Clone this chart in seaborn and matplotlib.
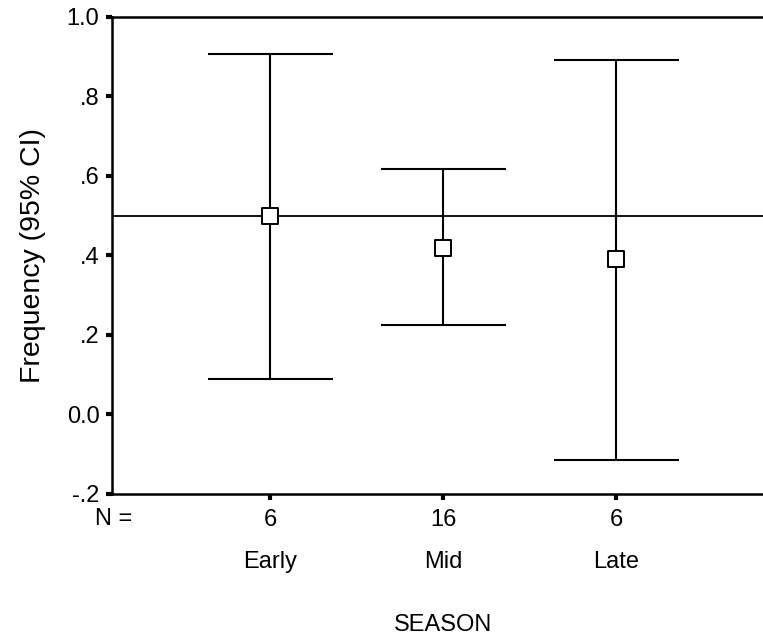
import matplotlib
matplotlib.use("Agg")
import matplotlib.pyplot as plt
import matplotlib.transforms as mtransforms
import seaborn as sns
import pandas as pd

# --- dados ---
seasons = ["Early", "Mid", "Late"]
n_counts = ["6", "16", "6"]
means = [0.50, 0.42, 0.39]
ci_low = [0.09, 0.225, -0.115]
ci_high = [0.907, 0.617, 0.893]
ref_level = 0.5

yticks = [-0.2, 0.0, 0.2, 0.4, 0.6, 0.8, 1.0]
ytick_labels = ["-.2", "0.0", ".2", ".4", ".6", ".8", "1.0"]

sns.set_theme(style="white")
plt.rcParams["font.family"] = ["Liberation Sans", "DejaVu Sans"]
plt.rcParams["text.color"] = "black"
plt.rcParams["axes.labelcolor"] = "black"
plt.rcParams["xtick.color"] = "black"
plt.rcParams["ytick.color"] = "black"

df = pd.DataFrame({"season": seasons, "mean": means, "lo": ci_low, "hi": ci_high})
df["pos"] = range(len(df))

fs = 17

fig = plt.figure(figsize=(7.63, 6.44), dpi=100)
ax = fig.add_axes([112 / 763, 1 - 494 / 644, 1 - 112 / 763, (494 - 17) / 644])

# barras de erro (IC 95%)
ax.errorbar(df["pos"], df["mean"],
            yerr=[df["mean"] - df["lo"], df["hi"] - df["mean"]],
            fmt="none", ecolor="black", elinewidth=1.5, capsize=45, capthick=1.5, zorder=2)

# linha de referência
ax.axhline(ref_level, color="black", lw=1.3, zorder=1)

# médias (quadrado vazio)
sns.scatterplot(data=df, x="pos", y="mean", marker="s", s=120,
                facecolor="white", edgecolor="black", linewidth=1.4, ax=ax, zorder=3)

ax.set_xlim(-0.913, 2.85)
ax.set_ylim(-0.2, 1.0)
ax.set_yticks(yticks)
ax.set_yticklabels(ytick_labels)
ax.set_xticks(df["pos"])
ax.set_xticklabels(n_counts)
ax.tick_params(axis="both", length=4, width=3, labelsize=fs, pad=5, direction="out",
               left=True, bottom=True)
ax.tick_params(axis="x", pad=7)

for side in ["left", "top", "bottom"]:
    ax.spines[side].set_visible(True)
    ax.spines[side].set_color("black")
    ax.spines[side].set_linewidth(1.8)
ax.spines["right"].set_visible(False)

ax.set_xlabel("")
ax.set_ylabel("Frequency (95% CI)", fontsize=20.5, labelpad=15)

trans = mtransforms.blended_transform_factory(ax.transData, fig.transFigure)
for p, name in zip(df["pos"], df["season"]):
    ax.text(p, 1 - 562 / 644, name, transform=trans, ha="center", va="center", fontsize=fs)

fig.text(114 / 763, 1 - 519 / 644, "N =", ha="center", va="center", fontsize=fs)
fig.text(443 / 763, 1 - 625 / 644, "SEASON", ha="center", va="center", fontsize=fs)

fig.savefig("out.png", dpi=100, facecolor="white")
